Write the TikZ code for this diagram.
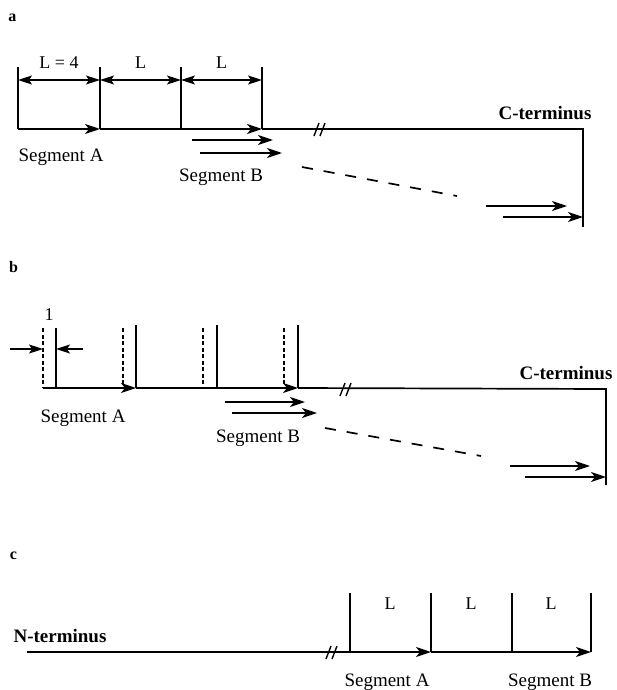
\documentclass[tikz,border=0pt]{standalone}
\usepackage{fontspec}
\setmainfont{Liberation Serif}
\usetikzlibrary{arrows.meta}
\begin{document}
\begin{tikzpicture}[x=1pt,y=-1pt,
  ln/.style={line width=1.7pt},
  arr/.style={line width=1.7pt,-{Stealth[length=15pt,width=10pt,inset=4pt]}},
  dimarr/.style={line width=1.4pt,{Stealth[length=14pt,width=9pt,inset=3pt]}-{Stealth[length=14pt,width=9pt,inset=3pt]}},
  onearr/.style={line width=1.4pt,-{Stealth[length=14pt,width=9pt,inset=3pt]}},
  lbl/.style={inner sep=0pt,font=\fontsize{19}{22}\selectfont},
  llbl/.style={inner sep=0pt,font=\fontsize{18}{21}\selectfont},
  blbl/.style={inner sep=0pt,font=\fontsize{19}{22}\selectfont\bfseries},
  plbl/.style={inner sep=0pt,font=\fontsize{16}{18}\selectfont\bfseries},
  dsh/.style={line width=1.7pt,dash pattern=on 11pt off 11pt},
  vdsh/.style={line width=1.4pt,dash pattern=on 4pt off 2.5pt},
  brk/.style={line width=1.4pt},
]
\useasboundingbox (0,0) rectangle (616,690);

% ---------------- panel a ----------------
\node[plbl] (la) at (12.5,17.5) {a};
\coordinate (a0) at (18,129);
\coordinate (a1) at (100,129);
\coordinate (a2) at (181,129);
\coordinate (a3) at (262,129);
\coordinate (aE) at (583,129);
\coordinate (aEb) at (583,227);
\coordinate (a0t) at (18,67);
\coordinate (a1t) at (100,67);
\coordinate (a2t) at (181,67);
\coordinate (a3t) at (262,67);
\coordinate (ad0) at (18,80);
\coordinate (ad1) at (100,80);
\coordinate (ad2) at (181,80);
\coordinate (ad3) at (262,80);
\draw[ln] (a0t) -- (a0);
\draw[ln] (a1t) -- (a1);
\draw[ln] (a2t) -- (a2);
\draw[ln] (a3t) -- (a3);
\draw[dimarr] (ad0) -- (ad1);
\draw[dimarr] (ad1) -- (ad2);
\draw[dimarr] (ad2) -- (ad3);
\node[llbl] (aL1) at (59,63) {L = 4};
\node[llbl] (aL2) at (140.5,63) {L};
\node[llbl] (aL3) at (221.5,63) {L};
\draw[ln] (a1) -- (a2);
\draw[ln] (a3) -- (aE) -- (aEb);
\draw[arr] (a0) -- (a1);
\draw[arr] (a2) -- (a3);
\coordinate (ab1s) at (192,140); \coordinate (ab1e) at (273,140);
\coordinate (ab2s) at (200,153); \coordinate (ab2e) at (282,153);
\draw[arr] (ab1s) -- (ab1e);
\draw[arr] (ab2s) -- (ab2e);
\coordinate (abk1) at (314,136); \coordinate (abk2) at (319,123);
\coordinate (abk3) at (320,136); \coordinate (abk4) at (325,123);
\draw[brk] (abk1) -- (abk2);
\draw[brk] (abk3) -- (abk4);
\coordinate (ads) at (302,167); \coordinate (ade) at (457,196);
\draw[dsh] (ads) -- (ade);
\coordinate (ac1s) at (486,206); \coordinate (ac1e) at (567,206);
\coordinate (ac2s) at (503,217); \coordinate (ac2e) at (583,217);
\draw[arr] (ac1s) -- (ac1e);
\draw[arr] (ac2s) -- (ac2e);
\node[lbl] (aSA) at (61,157) {Segment A};
\node[lbl] (aSB) at (221,177) {Segment B};
\node[blbl] (aC) at (545,113) {C-terminus};

% ---------------- panel b ----------------
\node[plbl] (lb) at (13.5,267) {b};
\node[llbl] (b1) at (49,315) {1};
\coordinate (bd0t) at (43,328); \coordinate (bd0) at (43,388);
\coordinate (bd1t) at (123,328); \coordinate (bd1) at (123,388);
\coordinate (bd2t) at (203,328); \coordinate (bd2) at (203,388);
\coordinate (bd3t) at (284,328); \coordinate (bd3) at (284,388);
\draw[vdsh] (bd0t) -- (bd0);
\draw[vdsh] (bd1t) -- (bd1);
\draw[vdsh] (bd2t) -- (bd2);
\draw[vdsh] (bd3t) -- (bd3);
\coordinate (b0t) at (56,328); \coordinate (b0) at (56,388);
\coordinate (b1t) at (136,325); \coordinate (b1b) at (136,388);
\coordinate (b2t) at (217,325); \coordinate (b2) at (217,388);
\coordinate (b3t) at (298,325); \coordinate (b3) at (298,388);
\draw[ln] (b0t) -- (b0);
\draw[ln] (b1t) -- (b1b);
\draw[ln] (b2t) -- (b2);
\draw[ln] (b3t) -- (b3);
\coordinate (bdl) at (10,349); \coordinate (bdlt) at (43,349);
\coordinate (bdr) at (83,349); \coordinate (bdrt) at (56,349);
\draw[onearr] (bdl) -- (bdlt);
\draw[onearr] (bdr) -- (bdrt);
\coordinate (bE) at (606,389); \coordinate (bEb) at (606,485);
\draw[ln] (bd0) -- (b0);
\draw[ln] (b1b) -- (b2);
\draw[ln] (b3) -- (bE) -- (bEb);
\draw[arr] (b0) -- (b1b);
\draw[arr] (b2) -- (b3);
\coordinate (bb1s) at (225,402); \coordinate (bb1e) at (305,402);
\coordinate (bb2s) at (232,413); \coordinate (bb2e) at (317,413);
\draw[arr] (bb1s) -- (bb1e);
\draw[arr] (bb2s) -- (bb2e);
\coordinate (bbk1) at (340,396); \coordinate (bbk2) at (345,383);
\coordinate (bbk3) at (346,396); \coordinate (bbk4) at (351,383);
\draw[brk] (bbk1) -- (bbk2);
\draw[brk] (bbk3) -- (bbk4);
\coordinate (bds) at (325,428); \coordinate (bde) at (481,456);
\draw[dsh] (bds) -- (bde);
\coordinate (bc1s) at (510,466); \coordinate (bc1e) at (590,466);
\coordinate (bc2s) at (525,477); \coordinate (bc2e) at (606,477);
\draw[arr] (bc1s) -- (bc1e);
\draw[arr] (bc2s) -- (bc2e);
\node[lbl] (bSA) at (83,418) {Segment A};
\node[lbl] (bSB) at (258,438) {Segment B};
\node[blbl] (bC) at (566,373) {C-terminus};

% ---------------- panel c ----------------
\node[plbl] (lc) at (13.5,556) {c};
\node[blbl] (cN) at (60,636) {N-terminus};
\coordinate (cS) at (27,652);
\coordinate (c0) at (350,652); \coordinate (c0t) at (350,593);
\coordinate (c1) at (431,652); \coordinate (c1t) at (431,593);
\coordinate (c2) at (512,652); \coordinate (c2t) at (512,593);
\coordinate (c3) at (591,652); \coordinate (c3t) at (591,593);
\draw[ln] (cS) -- (c0);
\draw[ln] (c0t) -- (c0);
\draw[ln] (c1t) -- (c1);
\draw[ln] (c2t) -- (c2);
\draw[ln] (c3t) -- (c3);
\draw[ln] (c1) -- (c2);
\draw[arr] (c0) -- (c1);
\draw[arr] (c2) -- (c3);
\coordinate (cbk1) at (326,659); \coordinate (cbk2) at (331,646);
\coordinate (cbk3) at (332,659); \coordinate (cbk4) at (337,646);
\draw[brk] (cbk1) -- (cbk2);
\draw[brk] (cbk3) -- (cbk4);
\node[llbl] (cL1) at (390,604) {L};
\node[llbl] (cL2) at (471,604) {L};
\node[llbl] (cL3) at (551,604) {L};
\node[lbl] (cSA) at (387,682) {Segment A};
\node[lbl] (cSB) at (550,682) {Segment B};
\end{tikzpicture}
\end{document}
